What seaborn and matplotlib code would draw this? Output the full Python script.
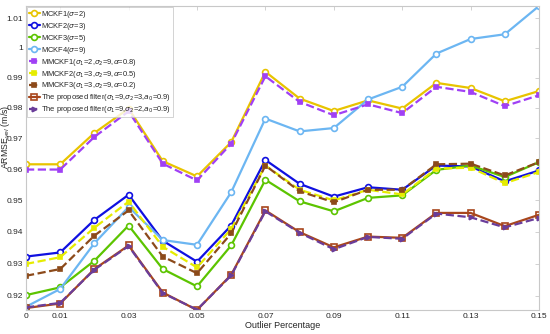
import numpy as np
import pandas as pd
import matplotlib
matplotlib.use("Agg")
import matplotlib.pyplot as plt
import seaborn as sns

# outlier percentage (x axis)
outlier_pct = [0.00, 0.01, 0.02, 0.03, 0.04, 0.05, 0.06, 0.07,
               0.08, 0.09, 0.10, 0.11, 0.12, 0.13, 0.14, 0.15]

# ARMSE_vel values
mckf1 = [0.9616, 0.9616, 0.9718, 0.9798, 0.9626, 0.9577, 0.9688, 0.9920,
         0.9831, 0.9790, 0.9825, 0.9798, 0.9883, 0.9866, 0.9822, 0.9856]
mckf2 = [0.9322, 0.9335, 0.9438, 0.9518, 0.9372, 0.9306, 0.9420, 0.9630,
         0.9553, 0.9512, 0.9542, 0.9534, 0.9612, 0.9609, 0.9561, 0.9596]
mckf3 = [0.9202, 0.9226, 0.9309, 0.9420, 0.9283, 0.9229, 0.9357, 0.9566,
         0.9497, 0.9465, 0.9508, 0.9516, 0.9598, 0.9612, 0.9575, 0.9623]
mckf4 = [0.9166, 0.9221, 0.9364, 0.9479, 0.9374, 0.9359, 0.9526, 0.9765,
         0.9723, 0.9734, 0.9828, 0.9870, 0.9981, 1.0030, 1.0046, 1.0142]
mmckf1 = [0.9599, 0.9599, 0.9705, 0.9789, 0.9618, 0.9564, 0.9683, 0.9905,
          0.9820, 0.9776, 0.9812, 0.9783, 0.9870, 0.9853, 0.9806, 0.9842]
mmckf2 = [0.9299, 0.9320, 0.9413, 0.9496, 0.9353, 0.9288, 0.9409, 0.9612,
          0.9534, 0.9500, 0.9534, 0.9519, 0.9602, 0.9605, 0.9555, 0.9591]
mmckf3 = [0.9262, 0.9283, 0.9388, 0.9468, 0.9322, 0.9270, 0.9395, 0.9612,
          0.9529, 0.9494, 0.9534, 0.9534, 0.9616, 0.9618, 0.9580, 0.9623]
proposed1 = [0.9162, 0.9176, 0.9283, 0.9357, 0.9210, 0.9156, 0.9265, 0.9468,
             0.9399, 0.9351, 0.9385, 0.9381, 0.9460, 0.9460, 0.9418, 0.9454]
proposed2 = [0.9164, 0.9178, 0.9281, 0.9355, 0.9208, 0.9157, 0.9263, 0.9465,
             0.9397, 0.9345, 0.9384, 0.9378, 0.9458, 0.9446, 0.9414, 0.9444]

labels = [
    r"MCKF1($\sigma$=2)",
    r"MCKF2($\sigma$=3)",
    r"MCKF3($\sigma$=5)",
    r"MCKF4($\sigma$=9)",
    r"MMCKF1($\sigma_1$=2,$\sigma_2$=9,$\alpha$=0.8)",
    r"MMCKF2($\sigma_1$=3,$\sigma_2$=9,$\alpha$=0.5)",
    r"MMCKF3($\sigma_1$=3,$\sigma_2$=9,$\alpha$=0.2)",
    r"The proposed filter($\sigma_1$=9,$\sigma_2$=3,$a_0$=0.9)",
    r"The proposed filter($\sigma_1$=9,$\sigma_2$=2,$a_0$=0.9)",
]
series = [mckf1, mckf2, mckf3, mckf4, mmckf1, mmckf2, mmckf3, proposed1, proposed2]

# style per series: colour, linestyle, marker, marker face
styles = [
    ("#E8C400", "-", "o", "white"),
    ("#1010E0", "-", "o", "white"),
    ("#5CC400", "-", "o", "white"),
    ("#6CB6F2", "-", "o", "white"),
    ("#A040F5", "--", "s", None),
    ("#E6EC00", "--", "s", None),
    ("#8C4A1A", "--", "s", None),
    ("#A8461C", "-", "s", "none"),
    ("#6A3D9A", "--", ">", None),
]

x_ticks = [0, 0.01, 0.03, 0.05, 0.07, 0.09, 0.11, 0.13, 0.15]
x_ticklabels = ["0", "0.01", "0.03", "0.05", "0.07", "0.09", "0.11", "0.13", "0.15"]
y_ticks = [0.92, 0.93, 0.94, 0.95, 0.96, 0.97, 0.98, 0.99, 1.0, 1.01]
y_ticklabels = ["0.92", "0.93", "0.94", "0.95", "0.96", "0.97", "0.98", "0.99", "1", "1.01"]


def main():
    sns.set_style("white")
    plt.rcParams["font.family"] = ["Liberation Sans", "DejaVu Sans"]
    plt.rcParams["mathtext.fontset"] = "dejavusans"

    fig = plt.figure(figsize=(5.5, 3.34), dpi=100)
    ax = fig.add_axes([26 / 550, 1 - 310 / 334, 513 / 550, 304 / 334])

    for vals, lab, (col, ls, mk, mfc) in zip(series, labels, styles):
        df = pd.DataFrame({"x": outlier_pct, "y": vals})
        kw = dict(color=col, linestyle=ls, linewidth=1.6, marker=mk,
                  markeredgecolor=col, markeredgewidth=1.2, label=lab)
        if mfc is not None:
            kw["markerfacecolor"] = mfc
            kw["markersize"] = 4.2
        else:
            kw["markerfacecolor"] = col
            kw["markersize"] = 3.2
        sns.lineplot(data=df, x="x", y="y", ax=ax, **kw)

    ax.set_yscale("log")
    all_vals = np.concatenate([np.array(s) for s in series])
    ax.set_ylim(all_vals.min(), all_vals.max())
    ax.set_xlim(0, 0.15)

    ax.set_xticks(x_ticks)
    ax.set_xticklabels(x_ticklabels)
    ax.yaxis.set_minor_locator(matplotlib.ticker.NullLocator())
    ax.set_yticks(y_ticks)
    ax.set_yticklabels(y_ticklabels)
    ax.tick_params(direction="in", length=3, width=0.5, colors="#BFBFBF",
                   labelcolor="#262626", labelsize=6, top=True, right=True, pad=2)

    for sp in ax.spines.values():
        sp.set_color("#C8C8C8")
        sp.set_linewidth(0.8)

    ax.set_xlabel("Outlier Percentage", fontsize=6.5, color="#262626", labelpad=1)
    ax.set_ylabel(r"ARMSE$_{vel}$ (m/s)", fontsize=6.3, color="#262626")
    ax.yaxis.set_label_coords(-0.027, 0.57)

    leg = ax.legend(loc="upper left", fontsize=5.4, frameon=True, fancybox=False,
                    borderaxespad=0.1, handlelength=1.4, handletextpad=0.2,
                    labelspacing=0.12, borderpad=0.3)
    leg.get_frame().set_edgecolor("#BFBFBF")
    leg.get_frame().set_linewidth(0.6)

    plt.savefig("out.png", dpi=100)


if __name__ == "__main__":
    main()
